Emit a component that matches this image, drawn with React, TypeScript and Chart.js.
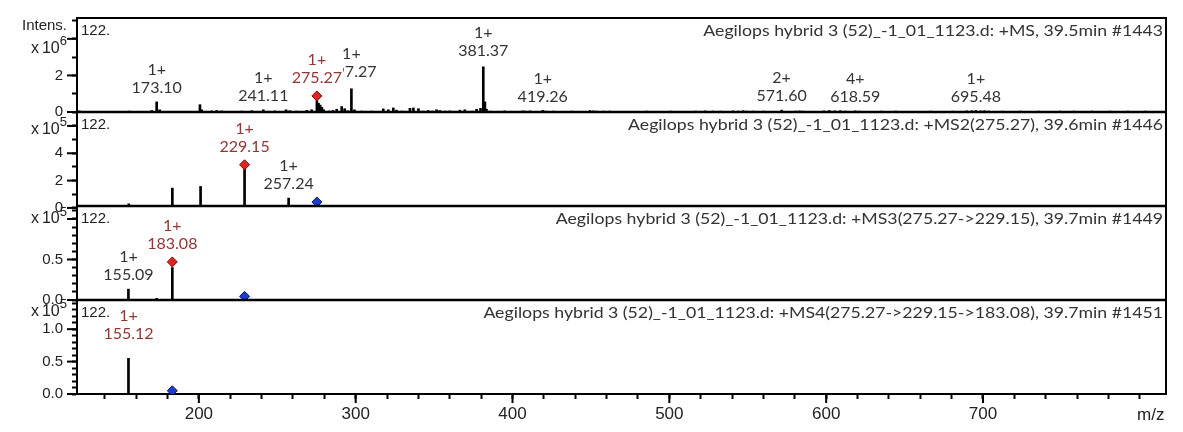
import { useEffect, useRef } from 'react';
import { Chart, registerables } from 'chart.js';

Chart.register(...registerables);

const AXIS_FONT = '"Liberation Sans", Arial, sans-serif';
const LABEL_FONT = 'Lato, "Open Sans", sans-serif';

// shared m/z axis
const MZ_MIN = 122.3;
const MZ_MAX = 816.7;
const MZ_TICKS = [
  140, 160, 180, 200, 220, 240, 260, 280, 300, 320, 340, 360, 380, 400, 420, 440, 460,
  480, 500, 520, 540, 560, 580, 600, 620, 640, 660, 680, 700, 720, 740, 760, 780, 800,
];
const MZ_LABELED = [200, 300, 400, 500, 600, 700];

// MS scan, intensity x10^6
const MS1_MZ = [
  123.8, 130.5, 143.3, 149.0, 155.6, 162.0, 169.9, 173.10, 175.0, 182.0,
  191.2, 196.0, 200.7, 201.8, 205.0, 208.2, 211.4, 214.6, 217.8, 222.0,
  227.3, 233.7, 237.0, 241.11, 244.5, 248.5, 252.0, 255.6, 258.0, 262.4,
  265.5, 268.8, 271.9, 275.27, 276.3, 277.3, 278.4, 279.5, 283.0, 285.5,
  287.9, 291.1, 293.0, 295.0, 297.27, 299.2, 303.8, 307.0, 310.0, 314.0,
  317.6, 320.8, 324.0, 326.0, 329.5, 331.5, 334.6, 336.8, 340.0, 343.0,
  346.3, 349.0, 351.6, 353.7, 357.0, 360.0, 363.0, 366.4, 369.6, 372.0,
  374.5, 377.1, 379.6, 381.37, 382.4, 383.4, 386.0, 391.0, 395.0, 398.4,
  403.0, 406.5, 408.0, 411.2, 414.5, 419.26, 421.0, 426.0, 431.0, 437.7,
  443.0, 449.4, 451.5, 453.6, 457.9, 462.0, 468.0, 474.9, 480.0, 485.7,
  491.0, 496.0, 500.8, 506.8, 512.0, 516.8, 519.5, 523.0, 527.8, 532.7,
  540.6, 544.0, 547.0, 549.5, 553.3, 556.0, 560.0, 566.0, 571.60, 575.0,
  580.5, 583.0, 585.0, 592.0, 598.6, 602.0, 605.5, 609.0, 612.4, 618.59,
  621.5, 628.0, 634.9, 644.3, 652.0, 660.0, 666.8, 673.0, 680.6, 686.0,
  689.6, 693.0, 695.48, 698.5, 701.0, 703.5, 712.6, 718.0, 724.0, 729.0,
  735.4, 742.0, 749.0, 758.0, 764.0, 769.4, 775.0, 781.0, 786.0, 792.4,
  798.0, 803.7, 810.0,
];
const MS1_INT = [
  0.06, 0.03, 0.04, 0.03, 0.05, 0.03, 0.08, 0.55, 0.12, 0.04,
  0.04, 0.03, 0.40, 0.12, 0.04, 0.06, 0.08, 0.06, 0.04, 0.03,
  0.05, 0.07, 0.04, 0.12, 0.04, 0.06, 0.04, 0.12, 0.07, 0.05,
  0.04, 0.09, 0.12, 0.62, 0.48, 0.38, 0.26, 0.13, 0.06, 0.08,
  0.15, 0.30, 0.18, 0.07, 1.27, 0.12, 0.05, 0.04, 0.05, 0.04,
  0.17, 0.12, 0.22, 0.10, 0.05, 0.04, 0.20, 0.22, 0.18, 0.05,
  0.08, 0.05, 0.12, 0.08, 0.05, 0.06, 0.04, 0.10, 0.12, 0.04,
  0.05, 0.15, 0.20, 2.47, 0.55, 0.15, 0.05, 0.04, 0.06, 0.04,
  0.03, 0.06, 0.05, 0.06, 0.03, 0.09, 0.05, 0.05, 0.03, 0.05,
  0.03, 0.08, 0.06, 0.05, 0.05, 0.05, 0.03, 0.04, 0.03, 0.05,
  0.03, 0.04, 0.05, 0.04, 0.03, 0.05, 0.04, 0.06, 0.05, 0.05,
  0.06, 0.05, 0.07, 0.05, 0.05, 0.04, 0.05, 0.03, 0.10, 0.04,
  0.05, 0.06, 0.05, 0.03, 0.06, 0.08, 0.06, 0.07, 0.05, 0.06,
  0.05, 0.03, 0.05, 0.05, 0.03, 0.04, 0.05, 0.03, 0.05, 0.04,
  0.06, 0.07, 0.08, 0.06, 0.07, 0.05, 0.05, 0.03, 0.05, 0.03,
  0.05, 0.03, 0.05, 0.05, 0.03, 0.05, 0.03, 0.05, 0.03, 0.05,
  0.03, 0.05, 0.03,
];

// MS2 / MS3 / MS4 scans, intensity x10^5
const MS2_MZ = [155.3, 183.1, 201.1, 229.15, 257.24];
const MS2_INT = [0.3, 1.45, 1.57, 3.1, 0.72];
const MS3_MZ = [155.09, 173.1, 183.08];
const MS3_INT = [0.134, 0.02, 0.40];
const MS4_MZ = [155.12];
const MS4_INT = [0.55];

// selected precursor (red) and parent ion (blue) markers
const RED_PANEL = [0, 1, 2];
const RED_MZ = [275.27, 229.15, 183.08];
const RED_INT = [0.88, 3.16, 0.47];
const BLUE_PANEL = [1, 2, 3];
const BLUE_MZ = [275.27, 229.15, 183.08];
const BLUE_INT = [0.43, 0.045, 0.05];

// peak annotations
const LABEL_PANEL = [0, 0, 0, 0, 0, 0, 0, 0, 0, 1, 1, 2, 2, 3];
const LABEL_MZ = [173.10, 241.11, 297.27, 275.27, 381.37, 419.26, 571.60, 618.59, 695.48, 229.15, 257.24, 155.09, 183.08, 155.12];
const LABEL_CHARGE = ['1+', '1+', '1+', '1+', '1+', '1+', '2+', '4+', '1+', '1+', '1+', '1+', '1+', '1+'];
const LABEL_SELECTED = [false, false, false, true, false, false, false, false, false, true, false, false, true, true];
const LABEL_NUDGE: Record<string, number> = { '297.27': 3, '155.12': 11, '381.37': 2 };

const PANEL_IDS = ['y1', 'y2', 'y3', 'y4'];
const PANEL_MZ = [MS1_MZ, MS2_MZ, MS3_MZ, MS4_MZ];
const PANEL_INT = [MS1_INT, MS2_INT, MS3_INT, MS4_INT];
const PANEL_TITLES = [
  'Aegilops hybrid 3 (52)_-1_01_1123.d: +MS, 39.5min #1443',
  'Aegilops hybrid 3 (52)_-1_01_1123.d: +MS2(275.27), 39.6min #1446',
  'Aegilops hybrid 3 (52)_-1_01_1123.d: +MS3(275.27->229.15), 39.7min #1449',
  'Aegilops hybrid 3 (52)_-1_01_1123.d: +MS4(275.27->229.15->183.08), 39.7min #1451',
];
const Y_MIN = [0, 0.14, 0, 0];
const Y_MAX = [5.14, 7.02, 1.16, 1.45];
const Y_TICKS = [
  [0, 1, 2, 3, 4, 5],
  [0, 1, 2, 3, 4, 5, 6],
  [0, 0.1, 0.2, 0.3, 0.4, 0.5, 0.6, 0.7, 0.8, 0.9, 1.0, 1.1],
  [0, 0.1, 0.2, 0.3, 0.4, 0.5, 0.6, 0.7, 0.8, 0.9, 1.0, 1.1, 1.2, 1.3, 1.4],
];
const Y_LABELS = [[0, 2], [0, 2, 4], [0, 0.5], [0, 0.5, 1.0]];
const Y_DECIMALS = [0, 0, 1, 1];
const EXPONENTS = [6, 5, 5, 5];
const EXPONENT_AT = [3.46, 5.72, 1.0, 1.27];
const EXPONENT_TICK = [4, 6, 1.0, null];

// the titles in the source image are drawn horizontally stretched
const TITLE_STRETCH = 1.18;

function line(ctx: CanvasRenderingContext2D, x1: number, y1: number, x2: number, y2: number) {
  ctx.beginPath();
  ctx.moveTo(x1, y1);
  ctx.lineTo(x2, y2);
  ctx.stroke();
}

const msAnnotations = {
  id: 'msAnnotations',
  afterDraw(chart: any) {
    const { ctx, chartArea: a, scales } = chart;
    const xs = scales.x;
    ctx.save();

    // panel separators and frame
    ctx.strokeStyle = '#000';
    ctx.lineWidth = 2.5;
    for (let i = 0; i < PANEL_IDS.length - 1; i++) {
      const y = scales[PANEL_IDS[i]].bottom;
      line(ctx, a.left, y, a.right, y);
    }
    ctx.lineWidth = 2;
    ctx.beginPath();
    ctx.moveTo(a.left, a.top);
    ctx.lineTo(a.right, a.top);
    ctx.lineTo(a.right, a.bottom);
    ctx.stroke();

    // longer major ticks
    ctx.lineWidth = 2;
    PANEL_IDS.forEach((id, i) => {
      const s = scales[id];
      const majors = [...Y_LABELS[i]];
      if (EXPONENT_TICK[i] != null) majors.push(EXPONENT_TICK[i] as number);
      majors.forEach((v) => {
        const y = s.getPixelForValue(v);
        line(ctx, a.left - 10, y, a.left, y);
      });
    });
    MZ_LABELED.forEach((v) => {
      const x = xs.getPixelForValue(v);
      line(ctx, x, a.bottom, x, a.bottom + 9);
    });

    // peak labels
    ctx.font = `16px ${LABEL_FONT}`;
    ctx.textAlign = 'center';
    ctx.textBaseline = 'middle';
    LABEL_MZ.forEach((mz, k) => {
      const p = LABEL_PANEL[k];
      const ys = scales[PANEL_IDS[p]];
      const r = RED_MZ.findIndex((m, j) => RED_PANEL[j] === p && Math.abs(m - mz) < 0.5);
      let top: number;
      let lift: number;
      if (r >= 0) {
        top = ys.getPixelForValue(RED_INT[r]);
        lift = 18;
      } else {
        const mzs = PANEL_MZ[p];
        let best = 0;
        mzs.forEach((m, j) => {
          if (Math.abs(m - mz) < Math.abs(mzs[best] - mz)) best = j;
        });
        top = ys.getPixelForValue(PANEL_INT[p][best]);
        lift = 14;
      }
      const text = mz.toFixed(2);
      const x = xs.getPixelForValue(mz);
      const yNum = top - lift - (LABEL_NUDGE[text] ?? 0);
      const yCh = yNum - 18;
      const w = Math.max(ctx.measureText(text).width, ctx.measureText(LABEL_CHARGE[k]).width);
      ctx.fillStyle = '#fff';
      ctx.fillRect(x - w / 2 - 1, yCh - 9, w + 2, yNum - yCh + 17);
      ctx.fillStyle = LABEL_SELECTED[k] ? '#963434' : '#333';
      ctx.fillText(LABEL_CHARGE[k], x, yCh);
      ctx.fillText(text, x, yNum);
    });

    // titles, start labels and exponent labels
    PANEL_IDS.forEach((id, i) => {
      const s = scales[id];
      const y = s.top + 13;
      ctx.textBaseline = 'middle';
      ctx.save();
      ctx.translate(a.right - 3, y);
      ctx.scale(TITLE_STRETCH, 1);
      ctx.font = `15px ${LABEL_FONT}`;
      ctx.textAlign = 'right';
      ctx.fillStyle = '#333';
      ctx.fillText(PANEL_TITLES[i], 0, 0);
      ctx.restore();

      ctx.font = `15px ${AXIS_FONT}`;
      ctx.textAlign = 'left';
      ctx.fillStyle = '#222';
      ctx.fillText(`${Math.floor(MZ_MIN)}.`, a.left + 4, y);

      const ey = s.getPixelForValue(EXPONENT_AT[i]);
      ctx.textAlign = 'right';
      ctx.font = `13px ${AXIS_FONT}`;
      const sup = String(EXPONENTS[i]);
      const sw = ctx.measureText(sup).width;
      ctx.fillText(sup, a.left - 10, ey - 7);
      ctx.font = `16px ${AXIS_FONT}`;
      ctx.fillText('10', a.left - 10 - sw, ey);
      ctx.textAlign = 'center';
      ctx.fillText('x', a.left - 42, ey);
    });

    ctx.font = `15px ${AXIS_FONT}`;
    ctx.textAlign = 'right';
    ctx.fillStyle = '#222';
    ctx.fillText('Intens.', a.left - 10, a.top + 8);

    ctx.font = `17px ${AXIS_FONT}`;
    ctx.textAlign = 'center';
    ctx.fillText('m/z', xs.getPixelForValue(800) + 11, a.bottom + 21);
    ctx.restore();
  },
};

export default function App() {
  const canvasRef = useRef<HTMLCanvasElement>(null);

  useEffect(() => {
    if (!canvasRef.current) return;

    const datasets: any[] = [];
    RED_MZ.forEach((m, j) => {
      datasets.push({
        type: 'scatter',
        data: [{ x: m, y: RED_INT[j] }],
        yAxisID: PANEL_IDS[RED_PANEL[j]],
        pointStyle: 'rectRot',
        pointRadius: 5,
        backgroundColor: '#e0241f',
        borderColor: '#7a0d0d',
        borderWidth: 1,
        order: -1,
      });
    });
    BLUE_MZ.forEach((m, j) => {
      datasets.push({
        type: 'scatter',
        data: [{ x: m, y: BLUE_INT[j] }],
        yAxisID: PANEL_IDS[BLUE_PANEL[j]],
        pointStyle: 'rectRot',
        pointRadius: 5,
        backgroundColor: '#1c3ccf',
        borderColor: '#0b176e',
        borderWidth: 1,
        order: -1,
      });
    });
    PANEL_IDS.forEach((id, i) => {
      datasets.push({
        type: 'bar',
        data: PANEL_MZ[i].map((m, j) => ({ x: m, y: PANEL_INT[i][j] })),
        yAxisID: id,
        backgroundColor: '#000',
        borderWidth: 0,
        barThickness: 2,
        grouped: false,
        order: 1,
      });
    });

    const scales: any = {
      x: {
        type: 'linear',
        position: 'bottom',
        min: MZ_MIN,
        max: MZ_MAX,
        offset: false,
        afterBuildTicks: (s: any) => {
          s.ticks = MZ_TICKS.map((v) => ({ value: v }));
        },
        afterFit: (s: any) => {
          s.height = 38;
        },
        grid: { display: true, offset: false, drawOnChartArea: false, drawTicks: true, tickLength: 5, tickColor: '#000', tickWidth: 2 },
        border: { display: true, color: '#000', width: 2 },
        ticks: {
          autoSkip: false,
          maxRotation: 0,
          padding: 5,
          color: '#222',
          font: { family: AXIS_FONT, size: 17 },
          callback: (v: number) => (MZ_LABELED.includes(v) ? String(v) : ''),
        },
      },
    };
    PANEL_IDS.forEach((id, i) => {
      scales[id] = {
        type: 'linear',
        position: 'left',
        stack: 'ms',
        stackWeight: 1,
        weight: PANEL_IDS.length - i,
        min: Y_MIN[i],
        max: Y_MAX[i],
        afterBuildTicks: (s: any) => {
          s.ticks = Y_TICKS[i].map((v) => ({ value: v }));
        },
        afterFit: (s: any) => {
          s.width = 77;
        },
        grid: { display: true, drawOnChartArea: false, drawTicks: true, tickLength: 5, tickColor: '#000', tickWidth: 2 },
        border: { display: true, color: '#000', width: 2 },
        ticks: {
          autoSkip: false,
          padding: 9,
          color: '#222',
          font: { family: AXIS_FONT, size: 15 },
          callback: (v: number) => (Y_LABELS[i].includes(v) ? v.toFixed(Y_DECIMALS[i]) : ''),
        },
      };
    });

    const chart = new Chart(canvasRef.current, {
      type: 'bar',
      data: { datasets },
      options: {
        responsive: true,
        maintainAspectRatio: false,
        animation: false,
        layout: { padding: { top: 14, right: 17, bottom: 0, left: 0 } },
        plugins: { legend: { display: false }, tooltip: { enabled: false } },
        scales,
      },
      plugins: [msAnnotations],
    } as any);

    return () => chart.destroy();
  }, []);

  return (
    <div style={{ position: 'fixed', left: 0, top: 0, width: 1183, height: 432, background: '#fff' }}>
      <canvas ref={canvasRef} />
    </div>
  );
}
